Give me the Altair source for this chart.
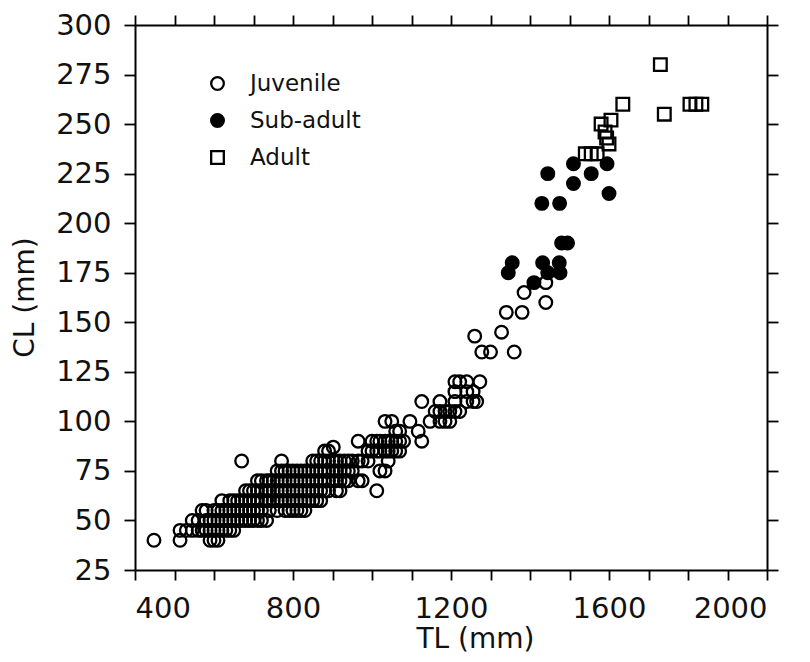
import altair as alt
import pandas as pd

stages = ["Juvenile", "Sub-adult", "Adult"]

# Juvenile: (TL, [CL values])
juvenile_columns = [
    (448, [40]), (514, [40, 45]), (530, [45]), (545, [45, 50]), (560, [45, 50]),
    (570, [45, 55]), (580, [45, 50, 55]), (590, [40, 45, 50]), (600, [40, 45, 50, 55]),
    (610, [40, 45, 50, 55]), (620, [45, 50, 55, 60]), (630, [45, 50, 55]),
    (640, [45, 50, 55, 60]), (650, [45, 50, 55, 60]), (660, [50, 55, 60]),
    (670, [50, 55, 60, 80]), (680, [50, 55, 60, 65]), (690, [50, 55, 60, 65]),
    (700, [50, 55, 60, 65]), (710, [50, 55, 60, 65, 70]), (720, [50, 55, 60, 65, 70]),
    (733, [50, 60, 65, 70]), (740, [55, 60, 65, 70]), (750, [60, 65, 70]),
    (760, [55, 60, 65, 70, 75]), (771, [60, 65, 70, 75, 80]), (780, [55, 60, 65, 70, 75]),
    (790, [55, 60, 65, 70, 75]), (800, [55, 60, 65, 70, 75]), (810, [55, 60, 65, 70, 75]),
    (820, [55, 60, 65, 70, 75]), (830, [55, 60, 65, 70, 75]), (840, [60, 65, 70, 75]),
    (850, [60, 65, 70, 75, 80]), (860, [60, 65, 70, 75, 80]), (870, [60, 65, 70, 75, 80]),
    (880, [65, 70, 75, 80, 85]), (890, [65, 70, 75, 80, 85]), (902, [70, 75, 80, 87]),
    (910, [65, 70, 75, 80]), (919, [65, 70, 75, 80]), (930, [70, 75, 80]),
    (940, [70, 75, 80]), (950, [75, 80]), (965, [70, 80, 90]), (975, [70, 80]),
    (990, [80, 85]), (1000, [85, 90]), (1012, [65, 85, 90]), (1020, [75, 85, 90]),
    (1033, [75, 85, 90, 100]), (1041, [80, 85, 90]), (1050, [85, 90, 100]),
    (1060, [85, 90, 95]), (1070, [85, 90, 95]), (1080, [90]), (1096, [100]),
    (1117, [95]), (1126, [90, 110]), (1147, [100]), (1160, [105]),
    (1172, [100, 105, 110]), (1185, [100, 105]), (1197, [100, 105]),
    (1210, [105, 110, 115, 120]), (1222, [105, 120]), (1240, [110, 115, 120]),
    (1256, [110, 115]), (1265, [110]), (1273, [120]), (1260, [143]), (1278, [135]),
    (1300, [135]), (1328, [145]), (1360, [135]), (1340, [155]), (1380, [155]),
    (1385, [165]), (1440, [160, 170]),
]

subadult_tl = [1345, 1355, 1410, 1432, 1445, 1474, 1476, 1480, 1495, 1430, 1475,
               1445, 1510, 1510, 1555, 1595, 1600]
subadult_cl = [175, 180, 170, 180, 175, 180, 175, 190, 190, 210, 210,
               225, 230, 220, 225, 230, 215]

adult_tl = [1540, 1555, 1570, 1580, 1590, 1594, 1600, 1605, 1635, 1730, 1740, 1805, 1820, 1835]
adult_cl = [235, 235, 235, 250, 246, 243, 240, 252, 260, 280, 255, 260, 260, 260]

x_ticks = list(range(400, 2001, 100))
y_ticks = list(range(25, 301, 25))

rows = []
for tl, cls in juvenile_columns:
    for cl in cls:
        rows.append({"TL": tl, "CL": cl, "Stage": "Juvenile"})
for tl, cl in zip(subadult_tl, subadult_cl):
    rows.append({"TL": tl, "CL": cl, "Stage": "Sub-adult"})
for tl, cl in zip(adult_tl, adult_cl):
    rows.append({"TL": tl, "CL": cl, "Stage": "Adult"})
df = pd.DataFrame(rows)

FONT = "DejaVu Sans"
xscale = alt.Scale(domain=[400, 2000], nice=False, zero=False)
yscale = alt.Scale(domain=[25, 300], nice=False, zero=False)

common_axis = dict(domainColor="black", domainWidth=2, tickColor="black", tickWidth=1.8,
                   grid=False, labelFont=FONT, labelColor="#111", titleFont=FONT,
                   titleFontWeight="normal", titleColor="#111")

legend_opts = dict(title=None, orient="none", legendX=71, legendY=47,
                   labelFont=FONT, labelFontSize=23, labelColor="#111",
                   symbolStrokeWidth=2.3, symbolSize=160, labelOffset=21, rowPadding=13)

points = alt.Chart(df).mark_point(filled=True, opacity=1, strokeWidth=2.3, size=160).encode(
    x=alt.X("TL:Q", scale=xscale,
            axis=alt.Axis(values=x_ticks, format="d", tickSize=10, labelFontSize=29,
                          labelExpr="datum.value % 400 === 0 ? datum.label : ''",
                          labelPadding=14, title="TL  (mm)", titleFontSize=28,
                          titleX=340, titleY=77, titleBaseline="alphabetic",
                          titleAnchor="middle", **common_axis)),
    y=alt.Y("CL:Q", scale=yscale,
            axis=alt.Axis(values=y_ticks, format="d", tickSize=11, labelFontSize=29,
                          labelPadding=13, title="CL  (mm)", titleFontSize=28,
                          titleX=-110, titleY=272, titleAngle=270, titleAlign="center",
                          titleBaseline="middle", **common_axis)),
    shape=alt.Shape("Stage:N", scale=alt.Scale(domain=stages, range=["circle", "circle", "square"]),
                    legend=alt.Legend(**legend_opts)),
    fill=alt.Fill("Stage:N", scale=alt.Scale(domain=stages, range=["transparent", "black", "transparent"]),
                  legend=alt.Legend(**legend_opts)),
    stroke=alt.Stroke("Stage:N", scale=alt.Scale(domain=stages, range=["black", "black", "black"]),
                      legend=alt.Legend(**legend_opts)),
)

frame = alt.Chart(df).mark_point(opacity=0).encode(
    x=alt.X("TL:Q", scale=xscale,
            axis=alt.Axis(orient="top", values=x_ticks, labels=False, title=None,
                          tickSize=10, **common_axis)),
    y=alt.Y("CL:Q", scale=yscale,
            axis=alt.Axis(orient="right", values=y_ticks, labels=False, title=None,
                          tickSize=11, **common_axis)),
)

chart = alt.layer(points, frame).resolve_axis(x="independent", y="independent").properties(
    width=632, height=545,
    padding={"left": 127, "top": 17, "right": 35, "bottom": 84},
    autosize=alt.AutoSizeParams(type="none"),
    background="white",
).configure_view(stroke=None)

chart.save("out.html", embed_options={"renderer": "svg", "actions": False})
